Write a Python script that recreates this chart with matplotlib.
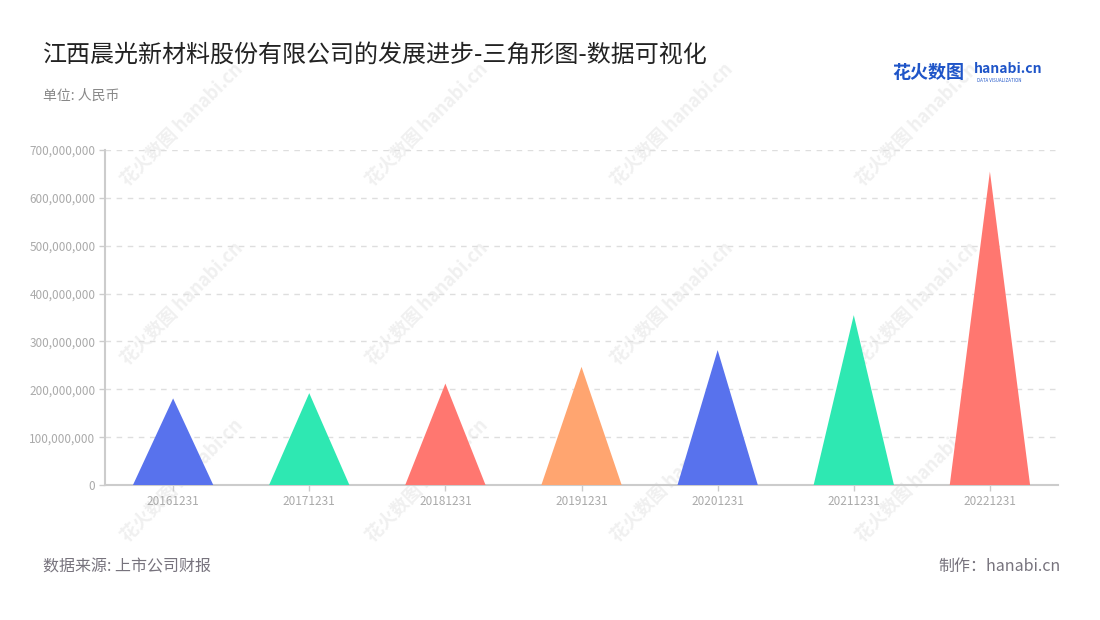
import numpy as np
import matplotlib.pyplot as plt
from matplotlib.ticker import FuncFormatter

plt.rcParams['font.family'] = ['Noto Sans CJK SC', 'DejaVu Sans']

# 数据（单位：人民币）
fechas = ['20161231', '20171231', '20181231', '20191231', '20201231', '20211231', '20221231']
valores = [181e6, 192e6, 212e6, 247e6, 282e6, 355e6, 655e6]
colores = ['#5872ED', '#2EE8B2', '#FF7770', '#FFA570', '#5872ED', '#2EE8B2', '#FF7770']

fig = plt.figure(figsize=(11, 6.2), dpi=100)
ax = fig.add_axes([0.0955, 0.2177, 0.8663, 0.5403])
ax.set_zorder(2)

# marca de agua
for wx in [0.165, 0.388, 0.611, 0.834]:
    for wy in [0.80, 0.51, 0.225]:
        fig.text(wx, wy, '花火数图 hanabi.cn', rotation=45, fontsize=13,
                 color='#f0f0f0', ha='center', va='center', zorder=-1,
                 fontweight='bold')

# triángulos
ancho = 0.59
for i, (v, c) in enumerate(zip(valores, colores)):
    ax.fill([i - ancho / 2, i, i + ancho / 2], [0, v, 0], color=c, lw=0, zorder=3)

ax.set_xlim(-0.5, len(fechas) - 0.5)
ax.set_ylim(0, 700e6)
ax.set_yticks(np.arange(0, 700e6 + 1, 100e6))
ax.yaxis.set_major_formatter(FuncFormatter(lambda v, p: f'{int(v):,}'))
ax.set_xticks(range(len(fechas)))
ax.set_xticklabels(fechas)
ax.patch.set_alpha(0)

ax.grid(axis='y', linestyle=(0, (4, 4)), color='#dedede', lw=1, zorder=0)
for s in ['top', 'right']:
    ax.spines[s].set_visible(False)
for s in ['left', 'bottom']:
    ax.spines[s].set_color('#cccccc')
    ax.spines[s].set_linewidth(1.5)
ax.tick_params(axis='y', colors='#cccccc', labelsize=8.5, length=4, width=1, pad=3)
ax.tick_params(axis='x', colors='#cccccc', labelsize=8.5, length=4, width=1, pad=3)
for lab in ax.get_yticklabels() + ax.get_xticklabels():
    lab.set_color('#aaaaaa')

# textos
fig.text(0.039, 0.911, '江西晨光新材料股份有限公司的发展进步-三角形图-数据可视化',
         fontsize=17.3, color='#222222', va='center')
fig.text(0.039, 0.845, '单位: 人民币', fontsize=10, color='#888888', va='center')
fig.text(0.039, 0.086, '数据来源: 上市公司财报', fontsize=11.5, color='#77737d', va='center')
fig.text(0.964, 0.086, '制作：hanabi.cn', fontsize=11.5, color='#77737d', va='center', ha='right')

# logo
fig.text(0.811, 0.883, '花火数图', fontsize=13, color='#1f55c8', fontweight='bold', va='center')
fig.text(0.885, 0.888, 'hanabi.cn', fontsize=10, color='#1f55c8', fontweight='bold', va='center')
fig.text(0.888, 0.870, 'DATA VISUALIZATION', fontsize=3.2, color='#1f55c8', va='center')

fig.savefig('out.png', dpi=100)
